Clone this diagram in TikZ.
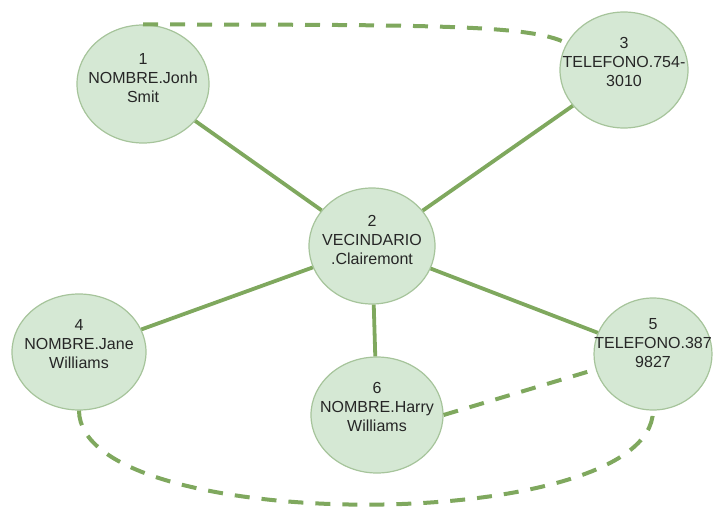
\documentclass[tikz,border=0pt]{standalone}
\usepackage{fontspec}
\setmainfont{Liberation Sans}
\usepackage{xcolor}
\usetikzlibrary{shapes.geometric}

\definecolor{bubblefill}{HTML}{D5E8D4}
\definecolor{bubbleline}{HTML}{A6C49B}
\definecolor{linkgreen}{HTML}{7FA85E}

\begin{document}
\begin{tikzpicture}[x=1pt, y=-1pt,
    bubble/.style={ellipse, draw=bubbleline, fill=bubblefill, line width=1.2pt, inner sep=0pt},
    lbl/.style={align=center, text=black!85, font=\fontsize{16}{19}\selectfont},
    link/.style={linkgreen, line width=3.8pt},
    dashlink/.style={linkgreen, line width=4pt, dash pattern=on 15pt off 12pt}]

\useasboundingbox (0,0) rectangle (714,516);

\path
    (143,84)  node[bubble, minimum width=132, minimum height=118](n1) {}
    (372,246) node[bubble, minimum width=126, minimum height=116](n2) {}
    (624,70)  node[bubble, minimum width=128, minimum height=116](n3) {}
    (79,352)  node[bubble, minimum width=134, minimum height=116](n4) {}
    (653,354) node[bubble, minimum width=118, minimum height=112](n5) {}
    (377,415) node[bubble, minimum width=132, minimum height=116](n6) {}
    ;

\node[lbl] (t1) at ([yshift=6pt]n1.center) {1\\NOMBRE.Jonh\\Smit};
\node[lbl] (t2) at ([yshift=6pt]n2.center) {2\\VECINDARIO\\.Clairemont};
\node[lbl] (t3) at ([yshift=8pt]n3.center) {3\\TELEFONO.754-\\3010};
\node[lbl] (t4) at ([yshift=8pt]n4.center) {4\\NOMBRE.Jane\\Williams};
\node[lbl] (t5) at ([yshift=11pt]n5.center) {5\\TELEFONO.387\\9827};
\node[lbl] (t6) at ([yshift=8pt]n6.center) {6\\NOMBRE.Harry\\Williams};

\draw[link] (n1) -- (n2);
\draw[link] (n3) -- (n2);
\draw[link] (n2) -- (n4);
\draw[link] (n2) -- (n5);
\draw[link] (n2) -- (n6);

\draw[dashlink] (n1.north) .. controls (420,25) and (530,24) .. (n3.155);
\draw[dashlink] (n6.east) -- (n5.195);
\draw[dashlink] (n4.south) .. controls (80,536) and (652,536) .. (n5.south);

\end{tikzpicture}
\end{document}
